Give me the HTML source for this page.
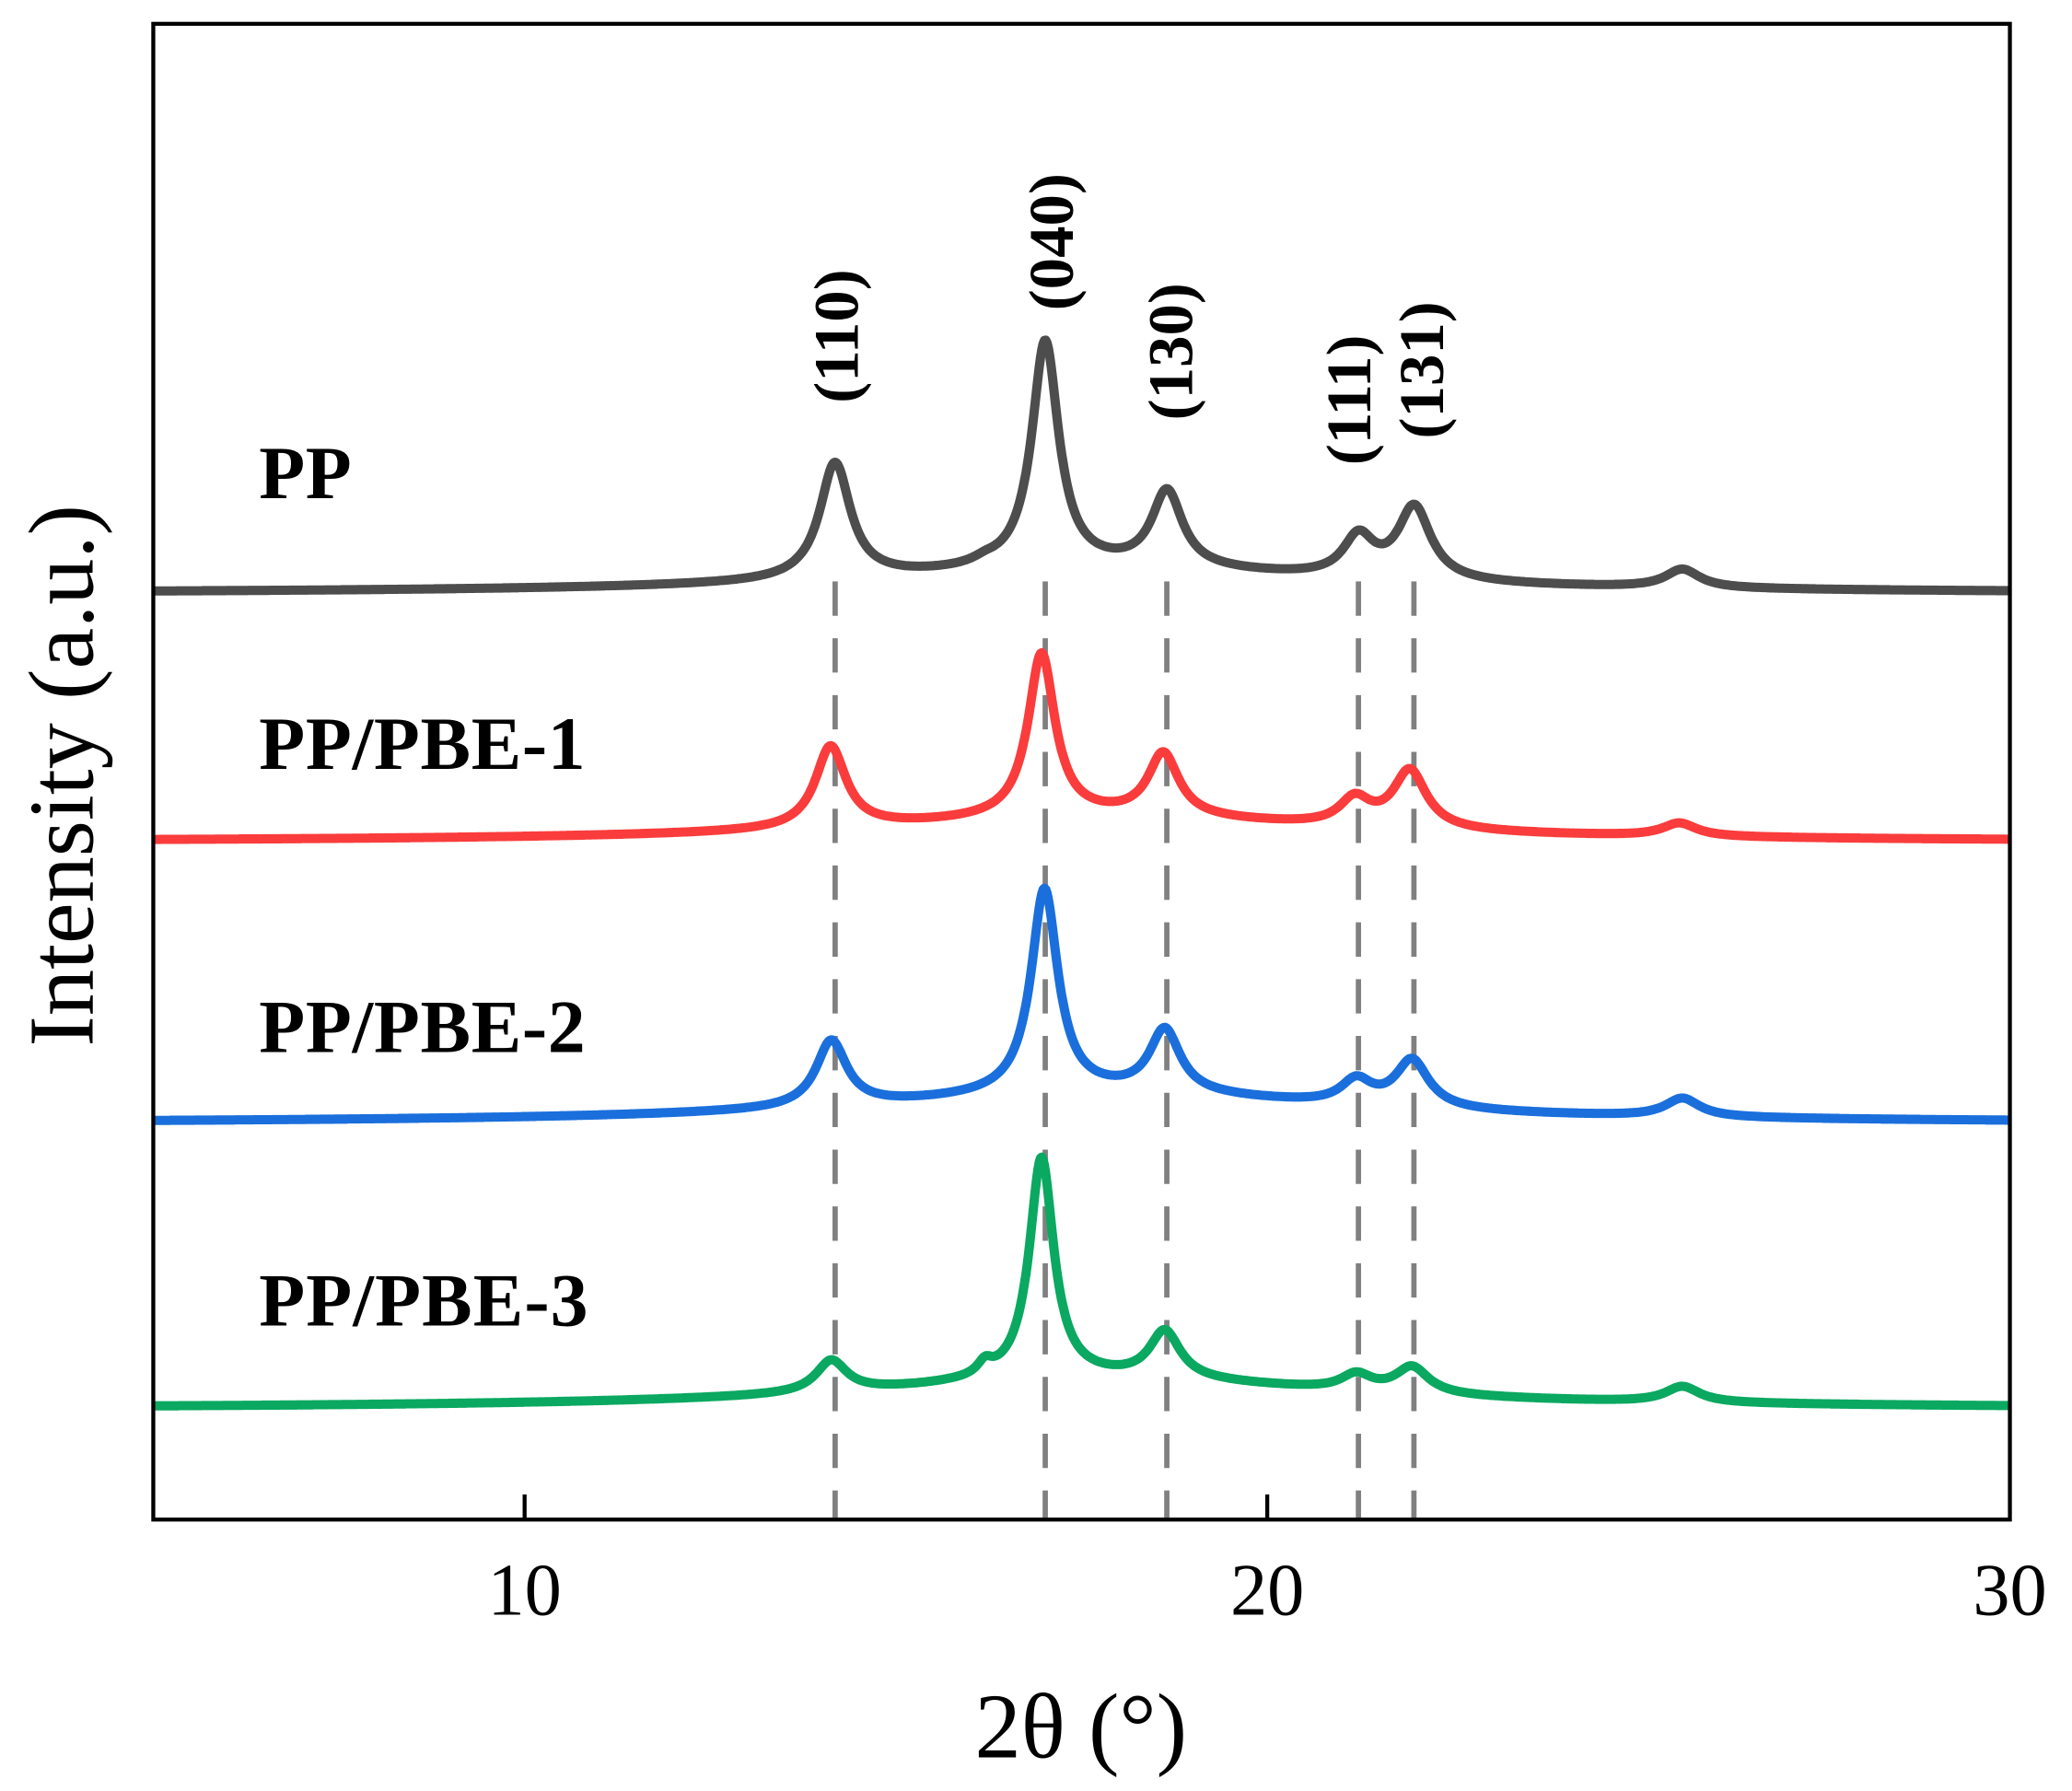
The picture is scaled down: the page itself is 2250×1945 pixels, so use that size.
<!DOCTYPE html>
<html><head><meta charset="utf-8"><style>
html,body{margin:0;padding:0;background:#fff;}
svg{display:block;}
text{font-family:"Liberation Serif",serif;}
</style></head><body>
<svg id="s" width="2250" height="1945" viewBox="0 0 1568 1355.4" xmlns="http://www.w3.org/2000/svg">
<g stroke="#808080" stroke-width="4" stroke-dasharray="26,17">
<line x1="632" y1="440" x2="632" y2="1150"/>
<line x1="791" y1="440" x2="791" y2="1150"/>
<line x1="883" y1="440" x2="883" y2="1150"/>
<line x1="1028" y1="440" x2="1028" y2="1150"/>
<line x1="1070" y1="440" x2="1070" y2="1150"/>
</g>
<g id="curves" fill="none" stroke-width="7" stroke-linejoin="round"></g>
<rect x="116" y="18" width="1405" height="1132" fill="none" stroke="#000" stroke-width="3"/>
<line x1="397" y1="1150" x2="397" y2="1131" stroke="#000" stroke-width="3"/>
<line x1="959" y1="1150" x2="959" y2="1131" stroke="#000" stroke-width="3"/>
<g font-size="56" text-anchor="middle">
<text x="397" y="1222">10</text><text x="959" y="1222">20</text><text x="1521" y="1222">30</text>
</g>
<text x="818" y="1330" font-size="70" text-anchor="middle">2θ (°)</text>
<text transform="translate(70,587) rotate(-90)" font-size="70" text-anchor="middle">Intensity (a.u.)</text>
<g font-size="57" font-weight="bold">
<text x="196" y="377" textLength="70">PP</text>
<text x="196" y="582" textLength="247">PP/PBE-1</text>
<text x="196" y="796" textLength="247">PP/PBE-2</text>
<text x="196" y="1003" textLength="249">PP/PBE-3</text>
</g>
<g font-size="48" font-weight="bold">
<text transform="translate(649,305) rotate(-90)">(110)</text>
<text transform="translate(812,235) rotate(-90)">(040)</text>
<text transform="translate(902,318) rotate(-90)">(130)</text>
<text transform="translate(1037,352) rotate(-90)">(111)</text>
<text transform="translate(1092,332) rotate(-90)">(131)</text>
</g>
</svg>
<script>
var series=[
 {c:"#4d4d4d",b:449,h:18,p:[[14.18,88,.25],[17.01,172,.22],[18.65,58,.25],[21.23,30,.25],[21.98,55,.27],[25.59,14,.28],[16.2,3,.2]]},
 {c:"#fa3c3c",b:637,h:18,p:[[14.12,62,.25],[16.96,124,.22],[18.6,48,.25],[21.18,20,.25],[21.92,44,.27],[25.55,10,.28]]},
 {c:"#1a6fdc",b:850,h:22,p:[[14.13,50,.25],[17.0,155,.22],[18.62,48,.25],[21.2,18,.25],[21.95,36,.27],[25.59,14,.28]]},
 {c:"#0aa860",b:1066,h:22,p:[[14.13,24,.25],[16.96,168,.2],[18.62,36,.25],[21.2,12,.25],[21.95,20,.27],[25.59,12,.28],[16.2,9,.12]]}
];
var g=document.getElementById('curves'),ns="http://www.w3.org/2000/svg";
series.forEach(function(s){
 var d="";
 for(var i=0;i<=1400;i++){
  var x=5+25*i/1400;
  var y=s.b-s.h/(1+Math.pow((x-17.8)/4,2));
  s.p.forEach(function(p){y-=p[1]/(1+Math.pow((x-p[0])/p[2],2));});
  var px=116+(x-5)*56.2;
  d+=(i?"L":"M")+px.toFixed(1)+" "+y.toFixed(1);
 }
 var e=document.createElementNS(ns,"path");
 e.setAttribute("d",d);e.setAttribute("stroke",s.c);g.appendChild(e);
});
</script>
</body></html>
